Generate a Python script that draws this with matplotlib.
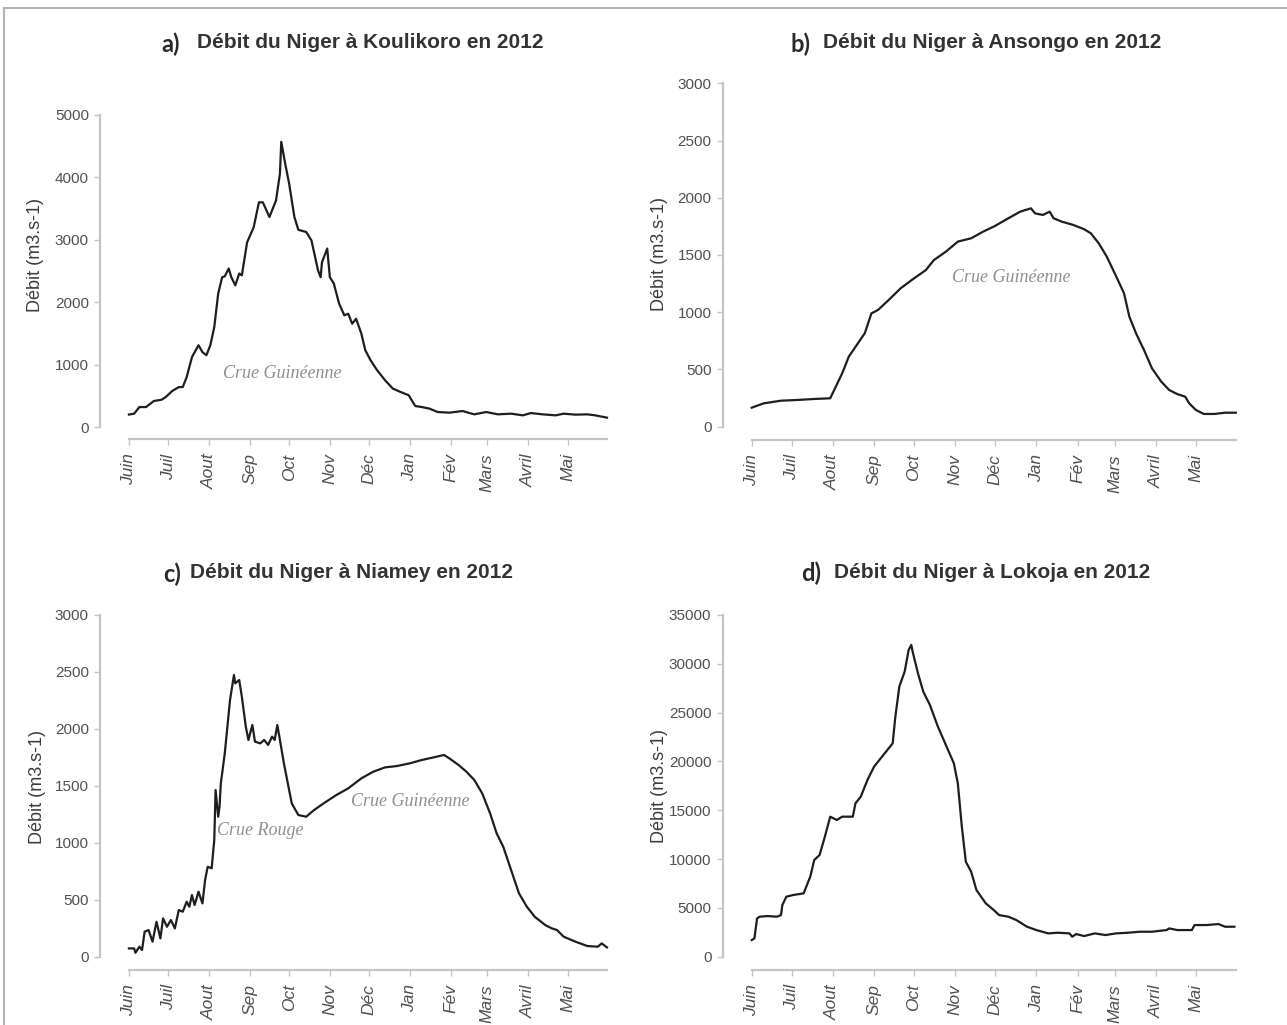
import matplotlib
matplotlib.use("Agg")
import matplotlib.pyplot as plt
from matplotlib.lines import Line2D

plt.rcParams['font.family'] = ['Liberation Sans', 'DejaVu Sans']

# ---------------- data ----------------
month_days = [0, 30, 61, 92, 122, 153, 183, 214, 245, 273, 304, 334]
month_labels = ["Juin", "Juil", "Aout", "Sep", "Oct", "Nov", "Déc", "Jan", "Fév", "Mars", "Avril", "Mai"]

# a) Koulikoro
days_a = [0, 4, 8, 13, 19, 25, 28, 33, 38, 41, 44, 48, 53, 56, 59, 62, 65, 68, 71, 73,
          76, 78, 81, 84, 86, 90, 95, 99, 102, 107, 112, 115, 116, 119, 122, 126, 129, 135, 139, 144,
          146, 147, 151, 153, 156, 160, 164, 167, 170, 173, 177, 180, 184, 189, 195, 201, 207, 213, 218, 223,
          229, 235, 244, 254, 263, 272, 281, 291, 300, 306, 315, 325, 331, 340, 349, 355, 364]
flow_a = [200, 214, 320, 320, 417, 438, 480, 577, 640, 640, 800, 1120, 1310, 1200, 1150, 1310, 1600, 2140, 2400, 2415,
          2540, 2400, 2270, 2460, 2430, 2960, 3200, 3600, 3600, 3365, 3630, 4060, 4570, 4220, 3900, 3365, 3160, 3125, 2990, 2510,
          2400, 2640, 2860, 2400, 2300, 1980, 1790, 1815, 1655, 1735, 1495, 1230, 1070, 910, 750, 615, 560, 510, 337, 320,
          294, 240, 230, 256, 203, 240, 203, 214, 187, 224, 203, 187, 214, 198, 203, 187, 150]

# b) Ansongo
days_b = [0, 9, 22, 34, 47, 59, 62, 68, 73, 79, 85, 90, 95, 103, 112, 121, 131, 137, 146, 155,
          165, 174, 183, 193, 202, 210, 213, 219, 224, 227, 233, 242, 250, 255, 261, 267, 273, 280, 284, 289,
          295, 301, 308, 314, 320, 326, 329, 334, 340, 348, 356, 364]
flow_b = [166, 204, 227, 233, 242, 248, 320, 466, 612, 714, 816, 990, 1020, 1107, 1209, 1287, 1369, 1456, 1529, 1617,
          1646, 1704, 1754, 1821, 1879, 1908, 1864, 1850, 1879, 1821, 1792, 1762, 1725, 1690, 1602, 1486, 1340, 1165, 961, 816,
          670, 510, 393, 320, 285, 262, 204, 146, 111, 111, 122, 122]

# c) Niamey
days_c = [0, 4, 5, 8, 10, 12, 15, 18, 21, 24, 26, 29, 32, 35, 38, 41, 44, 46, 48, 50,
          53, 56, 58, 60, 63, 65, 66, 68, 69, 70, 73, 77, 80, 81, 84, 86, 89, 91, 94, 96,
          100, 103, 106, 109, 111, 113, 115, 118, 121, 124, 129, 135, 141, 149, 158, 167, 177, 186, 195, 204,
          214, 223, 232, 240, 245, 251, 257, 263, 269, 275, 280, 285, 291, 297, 303, 309, 317, 322, 326, 331,
          340, 349, 357, 360, 364]
flow_c = [73, 73, 35, 88, 59, 220, 234, 132, 307, 161, 337, 263, 322, 249, 410, 395, 483, 439, 541, 454,
          571, 468, 673, 790, 776, 1024, 1463, 1229, 1317, 1522, 1785, 2254, 2473, 2400, 2429, 2283, 2020, 1903, 2034, 1888,
          1873, 1903, 1859, 1932, 1903, 2034, 1903, 1698, 1522, 1346, 1244, 1229, 1288, 1352, 1420, 1478, 1566, 1624, 1662, 1674,
          1698, 1727, 1750, 1771, 1733, 1683, 1624, 1551, 1434, 1259, 1083, 966, 761, 556, 439, 351, 278, 249, 234, 176,
          132, 94, 88, 117, 82]

# d) Lokoja
days_d = [0, 2, 4, 6, 12, 19, 22, 23, 26, 31, 39, 44, 47, 51, 55, 59, 64, 68, 76, 78,
          82, 87, 92, 96, 101, 106, 108, 111, 115, 118, 120, 121, 125, 129, 134, 140, 146, 152, 155, 158,
          161, 165, 169, 176, 182, 186, 193, 199, 207, 214, 223, 230, 239, 241, 244, 250, 258, 266, 274, 283,
          292, 301, 312, 314, 320, 331, 333, 342, 351, 356, 363]
flow_d = [1707, 1878, 3927, 4098, 4166, 4098, 4269, 5293, 6147, 6318, 6489, 8196, 9904, 10416, 12294, 14343, 14002, 14343, 14343, 15709,
          16392, 18100, 19466, 20149, 21002, 21856, 24588, 27662, 29198, 31418, 31930, 31247, 29027, 27149, 25783, 23563, 21685, 19807, 17758, 13318,
          9733, 8708, 6830, 5464, 4781, 4269, 4098, 3756, 3073, 2732, 2390, 2459, 2390, 2049, 2322, 2117, 2390, 2220, 2390, 2459,
          2561, 2561, 2732, 2903, 2732, 2732, 3244, 3244, 3347, 3073, 3073]

titles = ["Débit du Niger à Koulikoro en 2012", "Débit du Niger à Ansongo en 2012",
          "Débit du Niger à Niamey en 2012", "Débit du Niger à Lokoja en 2012"]
letters = ["a)", "b)", "c)", "d)"]
ylabel = "Débit (m3.s-1)"

# ---------------- figure ----------------
W, H = 1287, 1025
fig = plt.figure(figsize=(W / 100, H / 100), dpi=100)
fig.patch.set_facecolor('white')

def fx(x):
    return x / W

def fy(y):
    return 1 - y / H

AXIS_C = '#c4c4c4'
TICKLAB_C = '#505050'
LINE_C = '#1e1e1e'
ANNOT_C = '#8f8f8f'

panels = [
    dict(rect=(100, 102.5, 628, 439.5), days=days_a, flow=flow_a, ylim=(-200, 5200),
         yticks=list(range(0, 5001, 1000)), ylab=(35, 255), title_y=43, letter_x=161, title_x=197,
         notes=[("Crue Guinéenne", 117, 865)]),
    dict(rect=(722.5, 69.6, 1257, 440.4), days=days_b, flow=flow_b, ylim=(-120, 3120),
         yticks=list(range(0, 3001, 500)), ylab=(659, 254), title_y=43, letter_x=791, title_x=823,
         notes=[("Crue Guinéenne", 195, 1300)]),
    dict(rect=(100, 601.3, 628, 970.4), days=days_c, flow=flow_c, ylim=(-120, 3120),
         yticks=list(range(0, 3001, 500)), ylab=(37, 787), title_y=573, letter_x=163, title_x=190,
         notes=[("Crue Rouge", 100, 1112), ("Crue Guinéenne", 214, 1361)]),
    dict(rect=(722.5, 601.3, 1257, 970.4), days=days_d, flow=flow_d, ylim=(-1400, 36400),
         yticks=list(range(0, 35001, 5000)), ylab=(659, 786), title_y=572, letter_x=801, title_x=834,
         notes=[]),
]

for i, p in enumerate(panels):
    l, t, r, b = p['rect']
    ax = fig.add_axes([fx(l), fy(b), (r - l) / W, (b - t) / H])
    ax.set_facecolor('none')
    ax.plot(p['days'], p['flow'], color=LINE_C, lw=1.6, solid_joinstyle='round')
    ax.set_xlim(-22, 380)
    ax.set_ylim(*p['ylim'])
    for s in ['top', 'right']:
        ax.spines[s].set_visible(False)
    for s in ['left', 'bottom']:
        ax.spines[s].set_color(AXIS_C)
        ax.spines[s].set_linewidth(1.6)
    ax.spines['left'].set_bounds(p['yticks'][0], p['yticks'][-1])
    ax.spines['bottom'].set_bounds(0, 364)
    ax.set_yticks(p['yticks'])
    ax.set_yticklabels([str(v) for v in p['yticks']])
    ax.set_xticks(month_days)
    ax.set_xticklabels(month_labels, rotation=90, fontstyle='italic')
    ax.tick_params(axis='both', direction='out', length=4, width=1.0, color=AXIS_C,
                   labelcolor=TICKLAB_C)
    ax.tick_params(axis='y', labelsize=11, pad=4)
    ax.tick_params(axis='x', labelsize=12.5, pad=6)
    for txt, dx, dy in p['notes']:
        ax.text(dx, dy, txt, family='Liberation Serif', style='italic', color=ANNOT_C,
                fontsize=13, ha='center', va='center')
    # y label
    fig.text(fx(p['ylab'][0]), fy(p['ylab'][1]), ylabel, rotation=90, ha='center', va='center',
             fontsize=13, color='#3c3c3c')
    # title
    fig.text(fx(p['letter_x']), fy(p['title_y'] + 1), letters[i], family=['Lato', 'DejaVu Sans'],
             weight='bold', fontsize=17, ha='left', va='center', color='#2a2a2a')
    fig.text(fx(p['title_x']), fy(p['title_y']), titles[i], weight='bold', fontsize=15,
             ha='left', va='center', color='#333333')

# frame lines
fig.add_artist(Line2D([fx(4), 1.0], [fy(8), fy(8)], transform=fig.transFigure, color='#b4b4b4', lw=1.5))
fig.add_artist(Line2D([fx(4), fx(4)], [fy(8), 0.0], transform=fig.transFigure, color='#b4b4b4', lw=1.5))

fig.savefig('out.png', dpi=100, facecolor='white')
